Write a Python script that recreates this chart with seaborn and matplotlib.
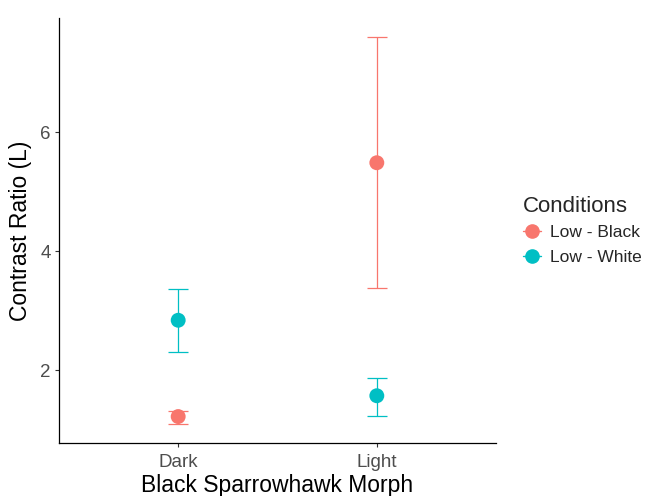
import matplotlib
matplotlib.use("Agg")
import matplotlib.pyplot as plt
from matplotlib.lines import Line2D
import pandas as pd
import seaborn as sns

# data
morphs = ["Dark", "Light"]
conditions = ["Low - Black", "Low - White"]
black_mean = [1.22, 5.49]
black_lower = [1.10, 3.38]
black_upper = [1.32, 7.60]
white_mean = [2.84, 1.57]
white_lower = [2.30, 1.23]
white_upper = [3.36, 1.87]
colors = {"Low - Black": "#F8766D", "Low - White": "#00BFC4"}

df = pd.DataFrame({
    "Morph": morphs * 2,
    "Condition": [conditions[0]] * 2 + [conditions[1]] * 2,
    "Mean": black_mean + white_mean,
    "Lower": black_lower + white_lower,
    "Upper": black_upper + white_upper,
})

sns.set_style("white")
plt.rcParams["font.family"] = ["Liberation Sans", "DejaVu Sans"]

fig = plt.figure(figsize=(6.49, 4.96), dpi=100)
ax = fig.add_axes([59 / 649, 53 / 496, (496 - 59) / 649, (443 - 18) / 496])

# error bars first, then points on top
for cond in conditions:
    sub = df[df["Condition"] == cond]
    ax.errorbar(
        sub["Morph"], sub["Mean"],
        yerr=[sub["Mean"] - sub["Lower"], sub["Upper"] - sub["Mean"]],
        fmt="none", ecolor=colors[cond], elinewidth=0.9,
        capsize=7.5, capthick=0.9, zorder=2,
    )

sns.scatterplot(
    data=df, x="Morph", y="Mean", hue="Condition",
    palette=colors, s=115, edgecolor="none", legend=False, ax=ax, zorder=3,
)

ax.set_xlim(-0.6, 1.6)
ax.set_ylim(0.775, 7.925)
ax.set_yticks([2, 4, 6])

ax.set_xlabel("Black Sparrowhawk Morph", fontsize=16.5, color="black", labelpad=2)
ax.set_ylabel("Contrast Ratio (L)", fontsize=16.5, color="black", labelpad=6)
ax.tick_params(axis="both", labelsize=13.5, labelcolor="#4D4D4D", colors="#333333",
               length=3, width=0.8, direction="out", left=True, bottom=True, pad=3)
ax.tick_params(axis="x", pad=5)

sns.despine(ax=ax)
for side in ["left", "bottom"]:
    ax.spines[side].set_color("black")
    ax.spines[side].set_linewidth(0.9)

handles = [
    Line2D([0], [0], color=colors[c], marker="o", markersize=9.5, linewidth=1, label=c)
    for c in conditions
]
leg = fig.legend(
    handles=handles, title="Conditions", loc="upper left",
    bbox_to_anchor=(507 / 649, 1 - 180 / 496), frameon=False,
    fontsize=12.5, title_fontsize=16, handlelength=1.05, handletextpad=0.55,
    labelspacing=0.55,
)
leg._legend_box.align = "left"
leg._legend_box.sep = 6

fig.savefig("out.png", dpi=100)
